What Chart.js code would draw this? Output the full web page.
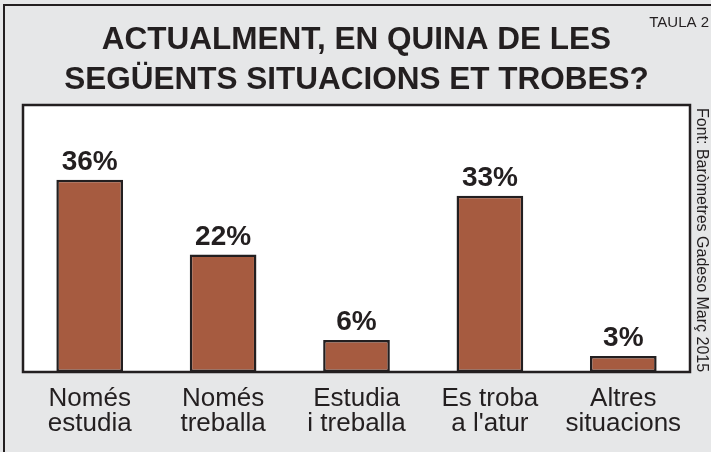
<!DOCTYPE html>
<html>
<head>
<meta charset="utf-8">
<script src="https://cdn.jsdelivr.net/npm/chart.js@4.4.1/dist/chart.umd.min.js"></script>
<style>
  html, body { margin: 0; padding: 0; background: #e6e7e8; overflow: hidden; }
  #marc { position: absolute; left: 3px; top: 4px; width: 760px; height: 500px;
          border-left: 2px solid #231f20; border-top: 2px solid #231f20; }
  #caixa { position: absolute; left: 0; top: 0; width: 711px; height: 452px; }
</style>
</head>
<body>
<div id="marc"></div>
<div id="caixa"><canvas id="grafic"></canvas></div>
<script>
const categories = [
  ["Només", "estudia"],
  ["Només", "treballa"],
  ["Estudia", "i treballa"],
  ["Es troba", "a l'atur"],
  ["Altres", "situacions"]
];
const percentatges = [36, 22, 6, 33, 3];
const titol = ["ACTUALMENT, EN QUINA DE LES", "SEGÜENTS SITUACIONS ET TROBES?"];
const etiquetaTaula = "TAULA 2";
const font = "Font: Baròmetres Gadeso Març 2015";

const FAMILIA = "'Liberation Sans', Arial, Helvetica, sans-serif";
const NEGRE = "#231f20";
const MARRO = "#a65b40";

// fons blanc i vora de la zona del grafic
const vora = {
  id: "vora",
  beforeDatasetsDraw(chart) {
    const { ctx, chartArea: a } = chart;
    ctx.save();
    ctx.fillStyle = "#ffffff";
    ctx.fillRect(a.left, a.top, a.right - a.left, a.bottom - a.top);
    ctx.lineWidth = 2.5;
    ctx.strokeStyle = NEGRE;
    ctx.strokeRect(a.left, a.top, a.right - a.left, a.bottom - a.top);
    ctx.restore();
  }
};

// valors damunt les barres, taula i font
const textos = {
  id: "textos",
  afterDatasetsDraw(chart) {
    const ctx = chart.ctx;
    ctx.save();
    ctx.fillStyle = NEGRE;
    ctx.font = "bold 28px " + FAMILIA;
    ctx.textAlign = "center";
    ctx.textBaseline = "alphabetic";
    chart.getDatasetMeta(0).data.forEach((barra, i) => {
      ctx.fillText(percentatges[i] + "%", barra.x, barra.y - 10);
    });

    ctx.font = "15px " + FAMILIA;
    ctx.textAlign = "right";
    ctx.fillText(etiquetaTaula, 709, 27);

    ctx.font = "16px " + FAMILIA;
    ctx.textAlign = "left";
    ctx.translate(697, 108);
    ctx.rotate(Math.PI / 2);
    ctx.fillText(font, 0, 0);
    ctx.restore();
  }
};

const ctx = document.getElementById("grafic").getContext("2d");
new Chart(ctx, {
  type: "bar",
  data: {
    labels: categories,
    datasets: [{
      data: percentatges,
      backgroundColor: MARRO,
      borderColor: NEGRE,
      borderWidth: 2.5,
      borderSkipped: false,
      categoryPercentage: 1,
      barPercentage: 0.5
    }]
  },
  options: {
    responsive: true,
    maintainAspectRatio: false,
    animation: false,
    layout: { padding: { left: 23, right: 21, top: 0, bottom: 2 } },
    plugins: {
      legend: { display: false },
      tooltip: { enabled: false },
      title: {
        display: true,
        text: titol,
        color: NEGRE,
        font: { family: FAMILIA, size: 31.5, weight: "bold", lineHeight: 40 / 31.5 },
        padding: { top: 20, bottom: 5 }
      }
    },
    scales: {
      x: {
        grid: { display: false, drawTicks: false },
        border: { display: false },
        ticks: {
          color: NEGRE,
          padding: 14,
          maxRotation: 0,
          autoSkip: false,
          font: { family: FAMILIA, size: 26, lineHeight: 25 / 26 }
        }
      },
      y: {
        display: false,
        min: 0,
        max: 50
      }
    }
  },
  plugins: [vora, textos]
});
</script>
</body>
</html>
